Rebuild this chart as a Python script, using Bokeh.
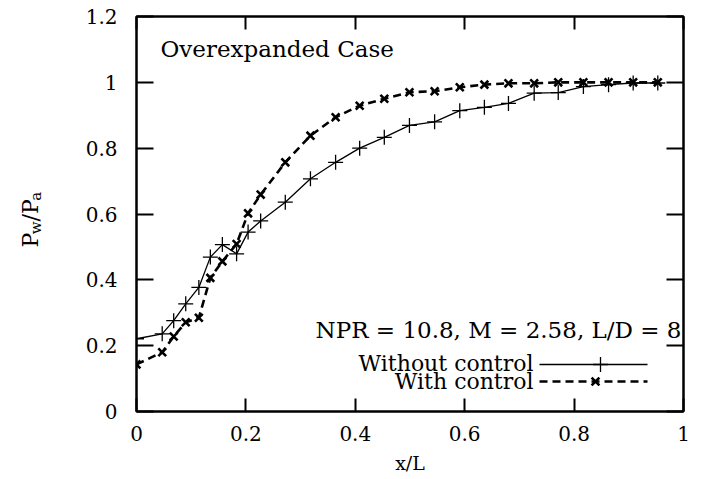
import math
from bokeh.plotting import figure
from bokeh.layouts import row
from bokeh.models import LinearAxis, FixedTicker, CustomJSTickFormatter, Label, Range1d
from bokeh.embed import file_html
from bokeh.resources import INLINE

# ---------------- data ----------------
x_over_L = [0.0, 0.047, 0.068, 0.090, 0.114, 0.135, 0.157, 0.183, 0.204, 0.227,
            0.272, 0.318, 0.364, 0.408, 0.453, 0.499, 0.545, 0.591, 0.636, 0.680,
            0.727, 0.771, 0.817, 0.863, 0.908, 0.953]
pw_without_control = [0.221, 0.236, 0.276, 0.327, 0.377, 0.469, 0.507, 0.479, 0.545, 0.579,
                      0.636, 0.707, 0.757, 0.800, 0.833, 0.869, 0.880, 0.914, 0.924, 0.936,
                      0.967, 0.969, 0.987, 0.993, 0.998, 0.998]
pw_with_control = [0.143, 0.180, 0.228, 0.271, 0.285, 0.406, 0.456, 0.509, 0.602, 0.659,
                   0.757, 0.838, 0.894, 0.929, 0.950, 0.970, 0.973, 0.985, 0.993, 0.997,
                   0.997, 1.000, 1.000, 1.000, 1.000, 1.000]
x_ticks = [0, 0.2, 0.4, 0.6, 0.8, 1]
x_tick_labels = ["0", "0.2", "0.4", "0.6", "0.8", "1"]
y_ticks = [0, 0.2, 0.4, 0.6, 0.8, 1, 1.2]
y_tick_labels = ["0", "0.2", "0.4", "0.6", "0.8", "1", "1.2"]
series_names = ["Without control", "With control"]
case_title = "Overexpanded Case"
case_params = "NPR = 10.8, M = 2.58, L/D = 8"
x_title = "x/L"
y_title_parts = [("P", "main"), ("w", "sub"), ("/", "main"), ("P", "main"), ("a", "sub")]

# ---------------- layout ----------------
FONT = "DejaVu Serif"
H = 478                    # total height of both panels
LW = 60                    # width of the y-title panel
FW, FH = 547, 395          # frame size
FL, FT = 136, 16           # frame left/top on page


def dx(px):
    return (px - FL) / FW * 1.0


def dy(py):
    return (FT + FH - py) / FH * 1.2


p = figure(frame_width=FW, frame_height=FH,
           x_range=Range1d(0, 1), y_range=Range1d(0, 1.2),
           output_backend="svg", toolbar_location=None,
           min_border_left=FL - LW, min_border_right=10,
           min_border_top=FT, min_border_bottom=H - FT - FH,
           background_fill_color="white", border_fill_color="white")
p.grid.visible = False
p.outline_line_color = "black"
p.outline_line_width = 2


def style_axis(ax, tick_len, standoff):
    ax.axis_line_color = "black"
    ax.axis_line_width = 2
    ax.major_tick_in = tick_len
    ax.major_tick_out = 0
    ax.major_tick_line_width = 2
    ax.minor_tick_line_color = None
    ax.major_label_text_font = FONT
    ax.major_label_text_font_size = "20px"
    ax.major_label_text_color = "black"
    ax.major_label_standoff = standoff


xa = p.xaxis[0]
xa.ticker = FixedTicker(ticks=x_ticks)
xa.major_label_overrides = {t: s for t, s in zip(x_ticks, x_tick_labels)}
style_axis(xa, 13, 14)
xa.axis_label = x_title
xa.axis_label_text_font = FONT
xa.axis_label_text_font_size = "19px"
xa.axis_label_text_font_style = "normal"
xa.axis_label_text_color = "black"
xa.axis_label_standoff = 8

ya = p.yaxis[0]
ya.ticker = FixedTicker(ticks=y_ticks)
ya.major_label_overrides = {t: s for t, s in zip(y_ticks, y_tick_labels)}
style_axis(ya, 17, 19)

blank = CustomJSTickFormatter(code="return ''")
top_ax = LinearAxis(ticker=FixedTicker(ticks=x_ticks), formatter=blank)
style_axis(top_ax, 13, 0)
top_ax.major_label_text_font_size = "1px"
p.add_layout(top_ax, "above")
right_ax = LinearAxis(ticker=FixedTicker(ticks=y_ticks), formatter=blank)
style_axis(right_ax, 17, 0)
right_ax.major_label_text_font_size = "1px"
p.add_layout(right_ax, "right")

# ---------------- series ----------------
p.line(x_over_L, pw_without_control, line_color="black", line_width=1.3)
p.scatter(x_over_L, pw_without_control, marker="cross", size=15,
          line_color="black", line_width=1.3)
p.line(x_over_L, pw_with_control, line_color="black", line_width=2.6, line_dash="8 5")
p.scatter(x_over_L, pw_with_control, marker="x", size=11,
          line_color="black", line_width=2.6)

# ---------------- key (gnuplot style: text then sample) ----------------
kx0, kx1 = dx(539), dx(647)
ky1, ky2 = dy(364), dy(381)
p.line([kx0, kx1], [ky1, ky1], line_color="black", line_width=1.3)
p.scatter([dx(600)], [ky1], marker="cross", size=15, line_color="black", line_width=1.3)
p.line([kx0, kx1], [ky2, ky2], line_color="black", line_width=2.6, line_dash="8 5")
p.scatter([dx(595)], [ky2], marker="x", size=11, line_color="black", line_width=2.6)


def add_text(fig, txt, x, y, size, align="left", angle=0.0, baseline="alphabetic"):
    fig.add_layout(Label(x=x, y=y, text=txt, text_font=FONT,
                         text_font_size=f"{size}px", text_color="black",
                         text_align=align, text_baseline=baseline, angle=angle))


add_text(p, series_names[0], dx(533), dy(363), 22, align="right")
add_text(p, series_names[1], dx(533), dy(381), 22, align="right")
add_text(p, case_title, dx(160), dy(48), 23)
add_text(p, case_params, dx(681), dy(329), 23, align="right")

# ---------------- y title panel (P_w/P_a with subscripts, rotated) ----------------
yl = figure(frame_width=LW, frame_height=H,
            x_range=Range1d(0, LW), y_range=Range1d(H, 0),
            x_axis_type=None, y_axis_type=None,
            output_backend="svg", toolbar_location=None,
            min_border_left=0, min_border_right=0, min_border_top=0, min_border_bottom=0,
            background_fill_color="white", border_fill_color="white")
yl.grid.visible = False
yl.outline_line_color = None

sizes = {"main": 22, "sub": 15}
base_x = {"main": 30, "sub": 35}
advance = {"P": 0.603, "w": 0.856, "/": 0.337, "a": 0.596}
cur = 231.0
for txt, kind in y_title_parts:
    add_text(yl, txt, base_x[kind], cur, sizes[kind], angle=math.pi / 2)
    cur -= sizes[kind] * advance[txt]

layout = row(yl, p)
open("out.html", "w").write(file_html(layout, INLINE))
